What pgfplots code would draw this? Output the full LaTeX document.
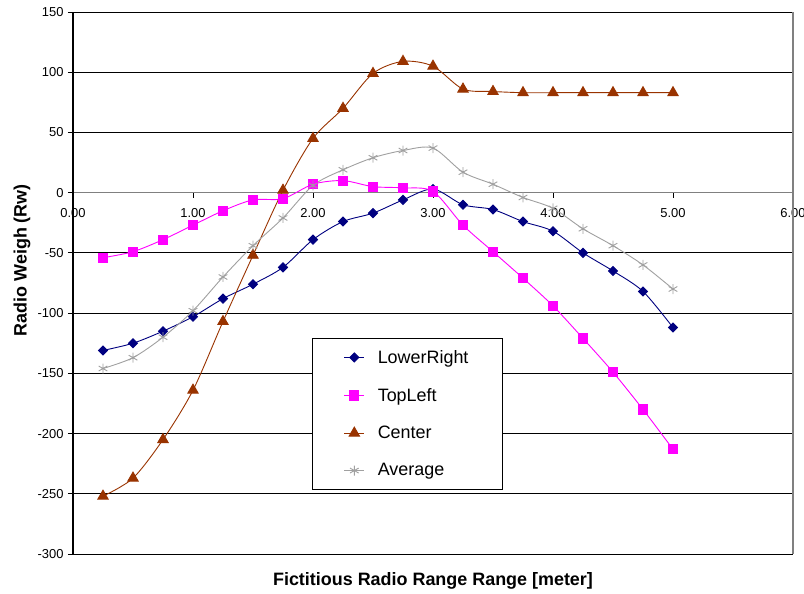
\documentclass[border=0pt]{standalone}
\usepackage{pgfplots}
\pgfplotsset{compat=1.18}
\usepackage{fontspec}
\setmainfont{Liberation Sans}
\definecolor{cLR}{HTML}{000080}
\definecolor{cTL}{HTML}{FF00FF}
\definecolor{cC}{HTML}{993300}
\definecolor{cAvg}{HTML}{A0A0A0}
\begin{document}
\begin{tikzpicture}
\useasboundingbox (-73bp,-40bp) rectangle (731bp,554bp);
\begin{axis}[
  at={(0,0)}, anchor=south west,
  scale only axis, width=720bp, height=542bp,
  xmin=0, xmax=6, ymin=-300, ymax=150,
  axis x line=middle, axis y line=left,
  axis line style={-},
  x axis line style={draw=gray, line width=1.6bp},
  y axis line style={draw=black, line width=1.2bp},
  hide obscured x ticks=false,
  xtick={0,1,2,3,4,5,6},
  ytick={-300,-250,-200,-150,-100,-50,0,50,100,150},
  ymajorgrids,
  major grid style={black, line width=0.8bp},
  tick align=outside,
  major tick length=5bp,
  tick style={black, line width=0.8bp},
  /pgf/number format/assume math mode=true,
  tick label style={font=\fontsize{13}{13}\selectfont},
  y tick label style={xshift=-1bp},
  x tick label style={yshift=-7bp, /pgf/number format/.cd, fixed, fixed zerofill, precision=2, /tikz/.cd},
  every axis x label/.style={at={(axis description cs:0.5,-0.05)}, anchor=center},
  every axis y label/.style={at={(axis description cs:-0.0708,0.542)}, rotate=90, anchor=center},
  xlabel={Fictitious Radio Range Range [meter]},
  ylabel={Radio Weigh (Rw)},
  label style={font=\bfseries\fontsize{18}{20}\selectfont},
  legend style={at={(0.3315,0.3985)}, anchor=north west, draw=black, fill=white,
    font=\fontsize{18}{18}\selectfont, inner xsep=32bp, inner ysep=10bp,
    row sep=19.5bp, column sep=11bp},
  legend cell align=left,
  legend image code/.code={\draw[mark repeat=2, mark phase=2] plot coordinates {(0bp,0bp)(10bp,0bp)(20bp,0bp)};},
  clip=false,
]
\addplot[cLR, line width=0.9bp, smooth, tension=0.5, mark=square*, mark size=3.2bp, mark options={rotate=45, solid, fill=cLR}]
coordinates {(0.25,-131)(0.5,-125)(0.75,-115)(1.0,-103)(1.25,-88)(1.5,-76)(1.75,-62)(2.0,-39)(2.25,-24)(2.5,-17)(2.75,-6)(3.0,3)(3.25,-10)(3.5,-14)(3.75,-24)(4.0,-32)(4.25,-50)(4.5,-65)(4.75,-82)(5.0,-112)};
\addlegendentry{LowerRight}
\addplot[cTL, line width=0.9bp, smooth, tension=0.5, mark=square*, mark size=4.6bp, mark options={solid, fill=cTL}]
coordinates {(0.25,-54)(0.5,-49)(0.75,-39)(1.0,-27)(1.25,-15)(1.5,-6)(1.75,-5)(2.0,7)(2.25,10)(2.5,5)(2.75,4)(3.0,1)(3.25,-27)(3.5,-49)(3.75,-71)(4.0,-94)(4.25,-121)(4.5,-149)(4.75,-180)(5.0,-213)};
\addlegendentry{TopLeft}
\addplot[cC, line width=0.9bp, smooth, tension=0.5, mark=triangle*, mark size=6bp, mark options={solid, fill=cC}]
coordinates {(0.25,-252)(0.5,-237)(0.75,-205)(1.0,-164)(1.25,-107)(1.5,-52)(1.75,2)(2.0,45)(2.25,70)(2.5,99)(2.75,109)(3.0,105)(3.25,86)(3.5,84)(3.75,83)(4.0,83)(4.25,83)(4.5,83)(4.75,83)(5.0,83)};
\addlegendentry{Center}
\addplot[cAvg, line width=0.9bp, smooth, tension=0.5, mark=asterisk, mark size=5bp, mark options={solid}]
coordinates {(0.25,-146)(0.5,-137)(0.75,-120)(1.0,-98)(1.25,-70)(1.5,-44)(1.75,-21)(2.0,6)(2.25,19)(2.5,29)(2.75,35)(3.0,37)(3.25,17)(3.5,7)(3.75,-4)(4.0,-13)(4.25,-30)(4.5,-44)(4.75,-60)(5.0,-80)};
\addlegendentry{Average}
\draw[gray, line width=1.6bp] (rel axis cs:1,0) -- (rel axis cs:1,1);
\end{axis}
\end{tikzpicture}
\end{document}
